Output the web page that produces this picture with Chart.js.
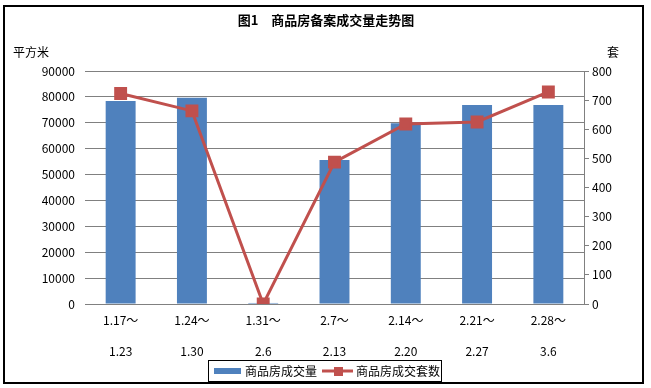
<!DOCTYPE html>
<html>
<head>
<meta charset="utf-8">
<title>商品房备案成交量走势图</title>
<script src="https://cdn.jsdelivr.net/npm/chart.js@4.4.1/dist/chart.umd.min.js"></script>
<style>
  body { margin: 0; background: #fff; }
  #wrap { width: 651px; height: 388px; }
</style>
</head>
<body>
<div id="wrap"><canvas id="myChart" width="651" height="388"></canvas></div>
<script>
'use strict';

// week ranges, first line and second line of each label
const weekStart = ['1.17～', '1.24～', '1.31～', '2.7～', '2.14～', '2.21～', '2.28～'];
const weekEnd = ['1.23', '1.30', '2.6', '2.13', '2.20', '2.27', '3.6'];

// 商品房成交量 (平方米) - bars, left axis
const areaSold = [78400, 79700, 400, 55600, 69800, 76900, 76900];
// 商品房成交套数 (套) - line, right axis
const unitsSold = [723, 663, 0, 487, 618, 625, 728];

// axis ranges
const leftMax = 90000;
const leftStep = 10000;
const rightMax = 800;
const rightStep = 100;

const BLUE = '#4F81BD';
const RED = '#C0504D';
const GRID = '#808080';
const FONT = '"Noto Sans CJK SC", "Liberation Sans", sans-serif';

// labels with an empty middle line so the two parts sit apart
let labels = [];
for (let i = 0; i < weekStart.length; i++) {
  labels.push([weekStart[i], '', weekEnd[i]]);
}

// draws the frame, title, unit labels and the boxed legend
const decorations = {
  id: 'decorations',
  afterDraw(chart) {
    const ctx = chart.ctx;
    ctx.save();

    // outer frame
    ctx.strokeStyle = '#000';
    ctx.lineWidth = 2;
    ctx.strokeRect(4, 6, 639, 377);

    // title
    ctx.fillStyle = '#000';
    ctx.textBaseline = 'middle';
    ctx.textAlign = 'center';
    ctx.font = 'bold 13px ' + FONT;
    ctx.fillText('图1　商品房备案成交量走势图', 326, 20);

    // unit labels
    ctx.font = '12px ' + FONT;
    ctx.textAlign = 'left';
    ctx.fillText('平方米', 13, 52);
    ctx.fillText('套', 607, 52);

    // legend box
    ctx.lineWidth = 1;
    ctx.strokeRect(208.5, 360.5, 233, 21);
    ctx.fillStyle = BLUE;
    ctx.fillRect(214, 368, 27, 6);
    ctx.fillStyle = '#000';
    ctx.fillText('商品房成交量', 245, 371);

    ctx.strokeStyle = RED;
    ctx.lineWidth = 3;
    ctx.beginPath();
    ctx.moveTo(322, 371);
    ctx.lineTo(353, 371);
    ctx.stroke();
    ctx.fillStyle = RED;
    ctx.fillRect(334, 367, 9, 9);
    ctx.fillStyle = '#000';
    ctx.fillText('商品房成交套数', 356, 371);

    ctx.restore();
  }
};

const config = {
  data: {
    labels: labels,
    datasets: [
      {
        type: 'line',
        label: '商品房成交套数',
        data: unitsSold,
        yAxisID: 'y1',
        borderColor: RED,
        backgroundColor: RED,
        borderWidth: 3,
        pointStyle: 'rect',
        pointRadius: 7,
        pointHoverRadius: 7,
        order: 0
      },
      {
        type: 'bar',
        label: '商品房成交量',
        data: areaSold,
        yAxisID: 'y',
        backgroundColor: BLUE,
        categoryPercentage: 1,
        barPercentage: 0.42,
        order: 1
      }
    ]
  },
  options: {
    responsive: false,
    animation: false,
    layout: { padding: { top: 71, left: 0, right: 0, bottom: 0 } },
    plugins: {
      legend: { display: false },
      title: { display: false },
      tooltip: { enabled: false }
    },
    scales: {
      x: {
        grid: { display: false, drawTicks: false },
        border: { display: true, color: GRID },
        ticks: {
          color: '#000',
          padding: 9,
          maxRotation: 0,
          autoSkip: false,
          font: { family: FONT, size: 12, lineHeight: '15.5px' }
        },
        afterFit(scale) { scale.height = 84; }
      },
      y: {
        position: 'left',
        min: 0,
        max: leftMax,
        grid: { color: GRID, drawTicks: false },
        border: { display: false },
        ticks: {
          stepSize: leftStep,
          color: '#000',
          padding: 10,
          font: { family: FONT, size: 12 },
          callback: (v) => String(v)
        },
        afterFit(scale) { scale.width = 85; }
      },
      y1: {
        position: 'right',
        min: 0,
        max: rightMax,
        grid: { drawOnChartArea: false, color: GRID, tickLength: 5 },
        border: { display: true, color: GRID },
        ticks: {
          stepSize: rightStep,
          color: '#000',
          padding: 3,
          font: { family: FONT, size: 12 }
        },
        afterFit(scale) { scale.width = 67; }
      }
    }
  },
  plugins: [decorations]
};

const ctx = document.getElementById('myChart').getContext('2d');
const myChart = new Chart(ctx, config);
</script>
</body>
</html>
